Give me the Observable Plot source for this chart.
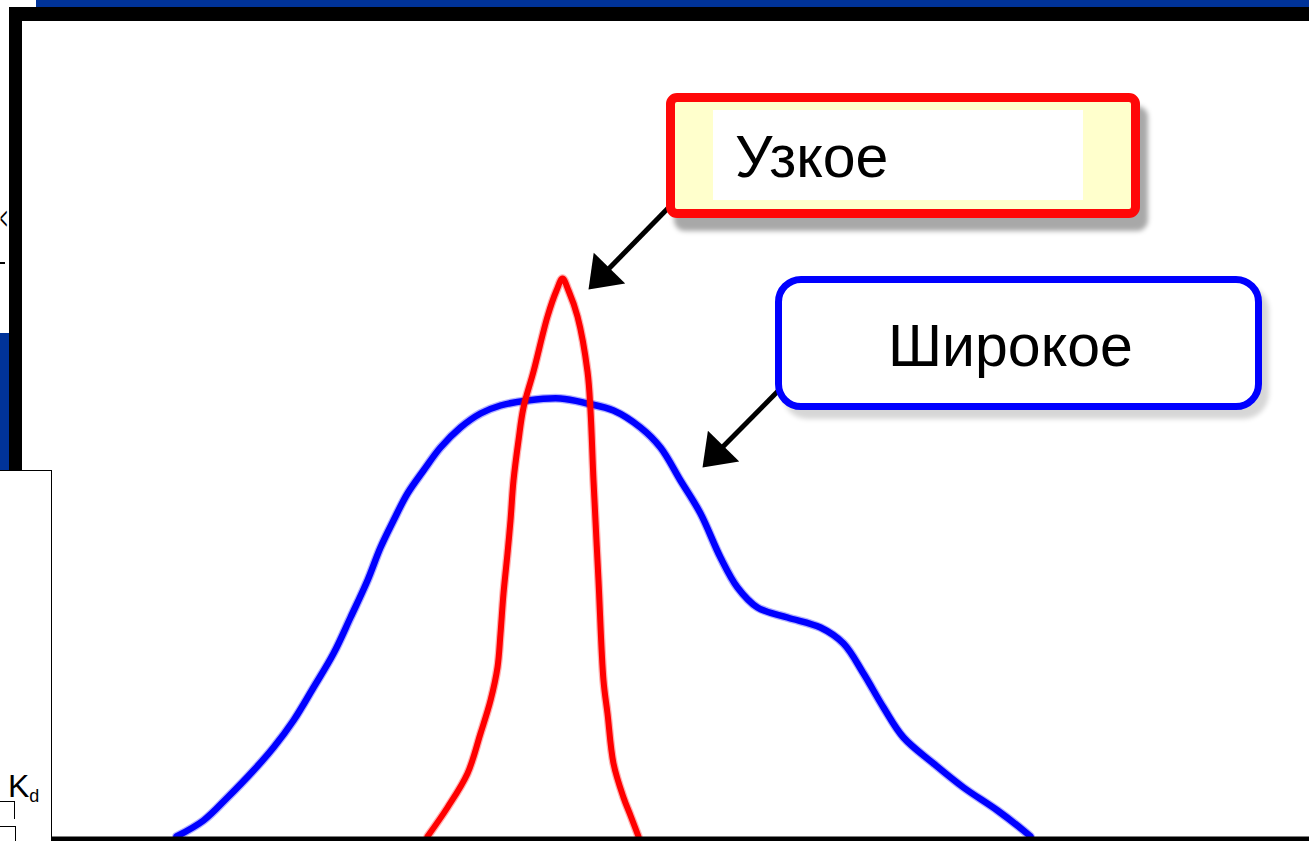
<!DOCTYPE html>
<html>
<head>
<meta charset="utf-8">
<script src="https://cdn.jsdelivr.net/npm/d3@7"></script>
<script src="https://cdn.jsdelivr.net/npm/@observablehq/plot@0.6"></script>
<style>
  html, body { margin: 0; padding: 0; background: #fff; }
  #stage { position: relative; width: 1309px; height: 841px; overflow: hidden; background: #fff;
           font-family: "Liberation Sans", Arial, sans-serif; }
  #stage > * { position: absolute; }
  #stage svg { left: 0; top: 0; }
  .bar-blue { background: #003399; }
  .bar-black { background: #000; }
  .callout-red { left: 666px; top: 93px; width: 456px; height: 107px; border: 9px solid #ff0808;
                 border-radius: 11px; background: #ffffcc; box-shadow: 8px 13px 5px rgba(0,0,0,0.34); }
  .callout-red .inner { position: absolute; left: 38px; top: 8px; width: 370px; height: 90px; background: #fff; }
  .callout-blue { left: 775px; top: 276px; width: 473px; height: 120px; border: 7px solid #0000ff;
                  border-radius: 26px; background: #fff; box-shadow: 7px 9px 5px rgba(0,0,0,0.16); }
  .label { font-size: 59px; line-height: 59px; color: #000; white-space: nowrap; }
  .kbox { left: -2px; top: 470px; width: 53px; height: 380px; background: #fff;
          border-top: 1.5px solid #000; border-right: 1.5px solid #000; }
</style>
</head>
<body>
<div id="stage"></div>
<script>
// ---- data (x: position units, y: intensity units) ----
const broadX = [17.6, 20.3, 22.7, 25.3, 27.3, 29.3, 31.3, 33.3, 35.0, 36.7, 38.0, 39.3, 40.7, 42.3, 44.0, 46.0, 48.0, 50.0, 52.7, 56.0, 58.7, 61.3, 64.0, 66.0, 68.0, 70.0, 72.0, 73.7, 75.7, 78.7, 82.0, 84.3, 86.3, 88.3, 90.3, 93.3, 96.3, 99.7, 102.3, 103.0];
const broadY = [0, 1.6, 3.9, 6.6, 8.9, 11.6, 14.9, 18.3, 21.9, 25.6, 28.9, 31.6, 34.3, 36.6, 38.9, 40.9, 42.3, 43.1, 43.6, 43.8, 43.3, 42.6, 40.9, 38.9, 35.6, 32.3, 27.9, 24.9, 22.9, 21.9, 20.9, 19.3, 16.3, 12.9, 9.9, 7.3, 4.9, 2.6, 0.6, 0];

const narrowX = [42.7, 44.7, 46.7, 48.0, 49.0, 49.7, 50.0, 50.3, 50.7, 51.0, 51.3, 51.8, 52.3, 53.3, 54.7, 55.6, 56.2, 56.8, 57.7, 58.7, 59.0, 59.3, 59.8, 60.3, 60.7, 61.3, 62.3, 63.0, 63.8];
const narrowY = [0, 2.9, 6.3, 10.3, 13.6, 16.9, 20.3, 24.3, 28.3, 31.6, 35.6, 39.6, 42.9, 46.5, 52.0, 54.6, 55.8, 54.6, 52.0, 46.5, 42.6, 35.6, 25.6, 15.6, 12.3, 7.3, 3.9, 2.1, 0];

const calloutLabels = ["Узкое", "Широкое"];
const arrowFromX = [67.5, 78.0];
const arrowFromY = [63.6, 44.8];
const arrowToX = [58.8, 70.2];
const arrowToY = [54.7, 36.9];

// ---- build tables ----
const broad = broadX.map((x, i) => ({x, y: broadY[i]}));
const narrow = narrowX.map((x, i) => ({x, y: narrowY[i]}));
const arrows = arrowFromX.map((x1, i) => {
  const y1 = arrowFromY[i], x2 = arrowToX[i], y2 = arrowToY[i];
  const dx = x1 - x2, dy = y1 - y2, len = Math.hypot(dx, dy);
  const sdx = x2 - x1, sdy = -(y2 - y1);
  return {x1, y1, x2, y2, ex: x2 + dx / len * 2.2, ey: y2 + dy / len * 2.2,
          angle: Math.atan2(sdx, -sdy) * 180 / Math.PI, label: calloutLabels[i]};
});

const arrowHead = {
  draw(context) {
    context.moveTo(0, 0);
    context.lineTo(-22, 30);
    context.lineTo(22, 30);
    context.closePath();
  }
};

const chart = Plot.plot({
  width: 1309,
  height: 841,
  marginTop: 0, marginRight: 0, marginBottom: 0, marginLeft: 0,
  x: {domain: [0, 130.9], range: [0, 1309], axis: null},
  y: {domain: [0, 83.6], range: [836, 0], axis: null},
  marks: [
    Plot.line(broad, {x: "x", y: "y", stroke: "#0000ff", strokeWidth: 9, strokeOpacity: 0.3, curve: "catmull-rom"}),
    Plot.line(broad, {x: "x", y: "y", stroke: "#0000ff", strokeWidth: 6.5, curve: "catmull-rom"}),
    Plot.line(narrow, {x: "x", y: "y", stroke: "#ff0000", strokeWidth: 8.5, strokeOpacity: 0.3, curve: "catmull-rom"}),
    Plot.line(narrow, {x: "x", y: "y", stroke: "#ff0000", strokeWidth: 6, curve: "catmull-rom"}),
    Plot.link(arrows, {x1: "x1", y1: "y1", x2: "ex", y2: "ey", stroke: "#000", strokeWidth: 5}),
    Plot.dot(arrows, {x: "x2", y: "y2", symbol: arrowHead, r: 10, fill: "#000", stroke: "none", rotate: "angle"}),
    Plot.ruleY([0], {stroke: "#000", strokeWidth: 5, dy: 2.5})
  ]
});

const stage = document.getElementById("stage");
stage.appendChild(chart);

function addDiv(cls, style, html) {
  const d = document.createElement("div");
  if (cls) d.className = cls;
  if (style) d.setAttribute("style", style);
  if (html != null) d.innerHTML = html;
  stage.appendChild(d);
  return d;
}

// slide decorations around the chart
addDiv("bar-blue", "left:36px;top:0;width:1273px;height:7px;");
addDiv("bar-black", "left:9px;top:7px;width:1300px;height:14px;");
addDiv("bar-black", "left:9px;top:7px;width:13px;height:463px;");
addDiv("bar-blue", "left:0;top:333px;width:9px;height:137px;");
addDiv("label", "left:0px;top:203px;font-size:30px;line-height:30px;transform:scale(0.42,1.05);transform-origin:0 0;", "&lt;");
addDiv("bar-black", "left:0;top:262px;width:5px;height:2px;");
addDiv("kbox", "");
addDiv("label", "left:8px;top:770px;font-size:32px;line-height:32px;", "K<span style='font-size:18px;position:relative;top:5px;'>d</span>");
addDiv("", "left:0;top:801px;width:14px;height:17px;border-top:1.5px solid #000;border-right:1.5px solid #000;");
addDiv("", "left:-2px;top:826px;width:17px;height:20px;border-top:1.5px solid #000;border-right:1.5px solid #000;");

// callouts
const red = addDiv("callout-red", "");
const inner = document.createElement("div"); inner.className = "inner"; red.appendChild(inner);
addDiv("label", "left:735px;top:128px;", calloutLabels[0]);
addDiv("callout-blue", "");
addDiv("label", "left:888px;top:317px;", calloutLabels[1]);
</script>
</body>
</html>
